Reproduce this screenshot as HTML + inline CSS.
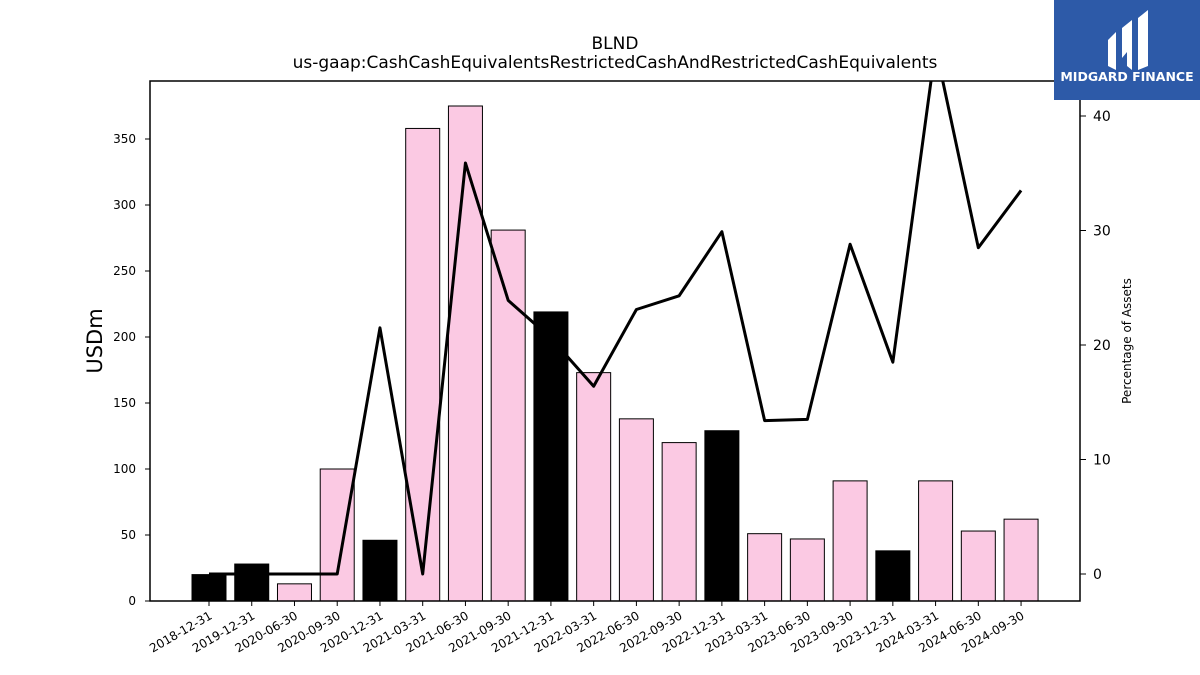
<!DOCTYPE html>
<html><head><meta charset="utf-8"><style>
body{margin:0;background:#fff;}
svg{display:block;font-family:"DejaVu Sans","Liberation Sans",sans-serif;}
</style></head><body>
<svg id="chart" width="1200" height="675" viewBox="0 0 1200 675">
<defs><clipPath id="plotclip"><rect x="150" y="81" width="930" height="520"/></clipPath></defs>
<text x="615" y="49" font-size="17" text-anchor="middle">BLND</text>
<text x="615" y="68" font-size="17" text-anchor="middle">us-gaap:CashCashEquivalentsRestrictedCashAndRestrictedCashEquivalents</text>
<g id="bars"></g>
<g id="line" clip-path="url(#plotclip)"></g>
<rect x="150" y="81" width="930" height="520" fill="none" stroke="#000" stroke-width="1.5"/>
<g id="axes"></g>
<text transform="translate(102,341) rotate(-90)" font-size="21" text-anchor="middle">USDm</text>
<text transform="translate(1131,341) rotate(-90)" font-size="12" text-anchor="middle">Percentage of Assets</text>
<g>
<rect x="1054" y="0" width="146" height="100" fill="#2d5aa8"/>
<path d="M1108 40 l8 -8 v38 l-8 -4 z M1122 28 l10 -8 v50 l-5 -4 v-14 l-5 6 z M1138 18 l10 -8 v56 l-10 4 z" fill="#fff"/>
<text x="1127" y="81" font-size="12.5" font-weight="bold" fill="#fff" text-anchor="middle">MIDGARD FINANCE</text>
</g>
</svg>
<script>
const categories=["2018-12-31","2019-12-31","2020-06-30","2020-09-30","2020-12-31","2021-03-31","2021-06-30","2021-09-30","2021-12-31","2022-03-31","2022-06-30","2022-09-30","2022-12-31","2023-03-31","2023-06-30","2023-09-30","2023-12-31","2024-03-31","2024-06-30","2024-09-30"];
const cashValues=[20,28,13,100,46,358,375,281,219,173,138,120,129,51,47,91,38,91,53,62];
const isAnnual=[1,1,0,0,1,0,0,0,1,0,0,0,1,0,0,0,1,0,0,0];
const pctAssets=[0,0,0,0,21.5,0,35.9,23.9,20.6,16.4,23.1,24.3,29.9,13.4,13.5,28.8,18.5,46,28.5,33.5];
const leftTicks=[0,50,100,150,200,250,300,350];
const rightTicks=[0,10,20,30,40];
const NS="http://www.w3.org/2000/svg";
function xPos(i){return 209+i*42.74;}
function yL(v){return 601-v*1.32;}
function yR(v){return 574-v*11.45;}
function mk(tag,attrs,parent){const e=document.createElementNS(NS,tag);for(const k in attrs)e.setAttribute(k,attrs[k]);parent.appendChild(e);return e;}
const bars=document.getElementById('bars'),axes=document.getElementById('axes'),line=document.getElementById('line');
cashValues.forEach((v,i)=>{
 const r=mk('rect',{x:xPos(i)-17,y:yL(v),width:34,height:yL(0)-yL(v),fill:isAnnual[i]?'#000':'#fbc9e3',stroke:'#000','stroke-width':1},bars);
 
 
 const t=mk('line',{x1:xPos(i),x2:xPos(i),y1:601,y2:606,stroke:'#000'},axes);
 
 
 const lb=mk('text',{transform:`translate(${xPos(i)+4},618) rotate(-30)`,'font-size':12,'text-anchor':'end'},axes);
 lb.textContent=categories[i];
 
 
});
const pl=mk('polyline',{points:pctAssets.map((v,i)=>xPos(i)+','+yR(v)).join(' '),fill:'none',stroke:'#000','stroke-width':3,'stroke-linejoin':'round'},line);


leftTicks.forEach(v=>{
 const t=mk('line',{x1:145,x2:150,y1:yL(v),y2:yL(v),stroke:'#000'},axes);
 
 
 const lb=mk('text',{x:136,y:yL(v)+4,'font-size':12,'text-anchor':'end'},axes);
 lb.textContent=v;
 
 
});
rightTicks.forEach(v=>{
 const t=mk('line',{x1:1080,x2:1086,y1:yR(v),y2:yR(v),stroke:'#000'},axes);
 
 
 const lb=mk('text',{x:1093,y:yR(v)+5,'font-size':14},axes);
 lb.textContent=v;
 
 
});
</script>
</body></html>
